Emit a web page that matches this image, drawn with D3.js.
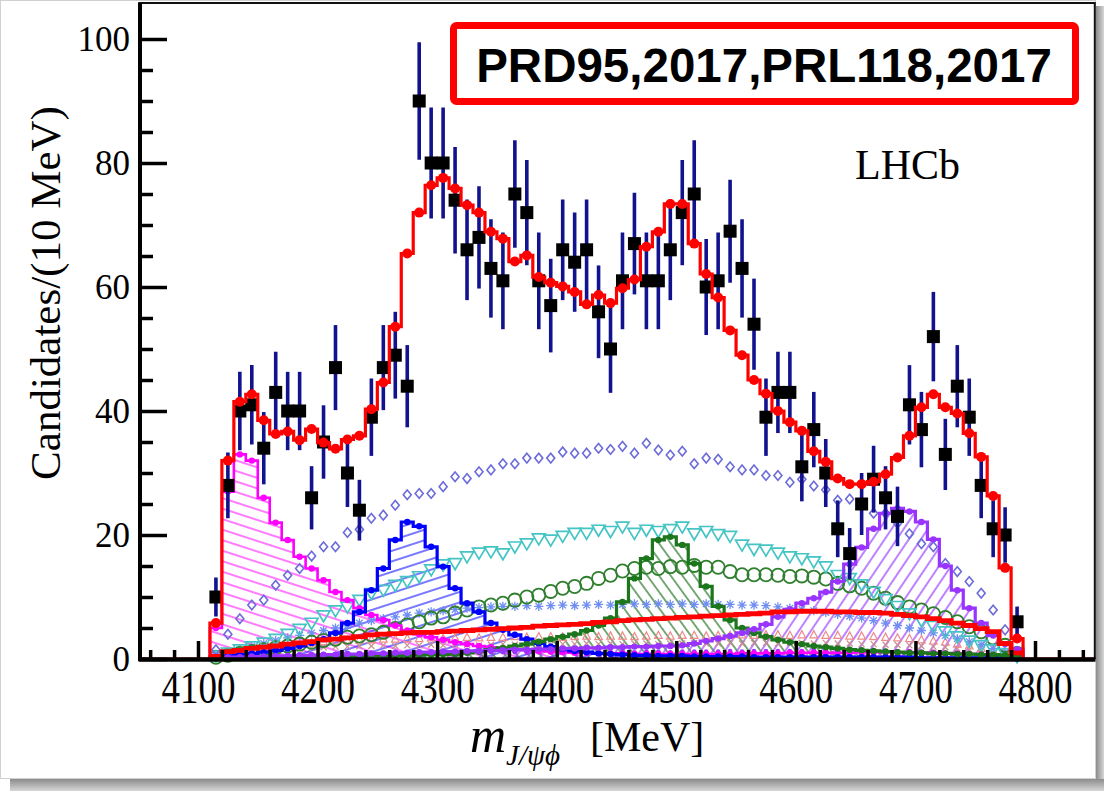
<!DOCTYPE html>
<html>
<head>
<meta charset="utf-8">
<script src="https://cdn.jsdelivr.net/npm/d3@7"></script>
<style>
  html, body { margin: 0; padding: 0; background: #ffffff; }
  svg { display: block; }
</style>
</head>
<body>
<svg id="chart" width="1104" height="791"></svg>
<script>
// ---- J/psi phi invariant-mass spectrum: 10 MeV bins ----
const binCenters = [
  4115, 4125, 4135, 4145, 4155, 4165, 4175, 4185, 4195, 4205,
  4215, 4225, 4235, 4245, 4255, 4265, 4275, 4285, 4295, 4305,
  4315, 4325, 4335, 4345, 4355, 4365, 4375, 4385, 4395, 4405,
  4415, 4425, 4435, 4445, 4455, 4465, 4475, 4485, 4495, 4505,
  4515, 4525, 4535, 4545, 4555, 4565, 4575, 4585, 4595, 4605,
  4615, 4625, 4635, 4645, 4655, 4665, 4675, 4685, 4695, 4705,
  4715, 4725, 4735, 4745, 4755, 4765, 4775, 4785
];

// Candidates per bin
const dataCounts = [
  10, 28, 40, 41, 34, 43, 40, 40, 26, 35,
  47, 30, 24, 39, 47, 49, 44, 90, 80, 80,
  74, 66, 68, 63, 61, 75, 72, 61, 57, 66,
  64, 66, 56, 50, 61, 67, 61, 61, 66, 72,
  75, 60, 61, 69, 63, 54, 39, 43, 43, 31,
  37, 30, 21, 17, 25, 29, 26, 23, 41, 37,
  52, 33, 44, 39, 28, 21, 20, 6
];

// Statistical uncertainty per bin
const dataErrors = [
  3.16, 5.29, 6.32, 6.40, 5.83, 6.56, 6.32, 6.32, 5.10, 5.92,
  6.86, 5.48, 4.90, 6.24, 6.86, 7.00, 6.63, 9.49, 8.94, 8.94,
  8.60, 8.12, 8.25, 7.94, 7.81, 8.66, 8.49, 7.81, 7.55, 8.12,
  8.00, 8.12, 7.48, 7.07, 7.81, 8.19, 7.81, 7.81, 8.12, 8.49,
  8.66, 7.75, 7.81, 8.31, 7.94, 7.35, 6.24, 6.56, 6.56, 5.57,
  6.08, 5.48, 4.58, 4.12, 5.00, 5.39, 5.10, 4.80, 6.40, 6.08,
  7.21, 5.74, 6.63, 6.24, 5.29, 4.58, 4.47, 2.45
];

// Total fit
const totalFit = [
  5.8, 32.0, 41.5, 42.7, 38.5, 36.3, 36.7, 35.3, 37.1, 34.9,
  33.9, 35.4, 36.0, 40.3, 44.6, 53.6, 65.4, 72.0, 76.4, 77.6,
  75.9, 73.2, 72.0, 68.9, 67.8, 64.1, 65.1, 61.6, 60.7, 60.1,
  59.2, 57.2, 58.7, 57.4, 59.8, 61.2, 66.5, 68.9, 73.4, 73.4,
  67.0, 62.1, 58.3, 53.0, 49.0, 45.0, 42.8, 40.0, 38.2, 36.8,
  33.5, 31.8, 29.1, 28.2, 28.2, 28.6, 29.8, 32.5, 36.0, 40.6,
  42.7, 40.6, 39.6, 36.4, 32.6, 26.3, 14.7, 3.3
];

// Hatched resonance components
const compX4140 = [
  5.0, 27.0, 33.0, 32.0, 26.0, 22.0, 19.2, 16.5, 14.6, 12.7,
  10.8, 9.5, 8.2, 7.1, 6.3, 5.4, 4.6, 4.0, 3.5, 3.1,
  2.7, 2.4, 2.1, 1.9, 1.7, 1.5, 1.4, 1.3, 1.2, 1.1,
  1.0, 1.0, 0.9, 0.9, 0.9, 0.8, 0.8, 0.8, 0.8, 0.8,
  0.8, 0.8, 0.8, 0.8, 0.9, 0.9, 0.9, 0.9, 1.0, 1.0,
  1.0, 1.0, 1.0, 1.0, 1.1, 1.1, 1.1, 1.1, 1.1, 1.0,
  1.0, 0.9, 0.9, 0.8, 0.7, 0.6, 0.5, 0.4
];
const compX4274 = [
  0.3, 0.5, 0.7, 0.9, 1.1, 1.4, 1.7, 2.1, 2.6, 3.2,
  4.2, 5.8, 7.6, 11.1, 14.6, 19.2, 22.1, 21.4, 18.1, 14.9,
  11.4, 9.0, 7.6, 5.8, 4.7, 3.9, 3.2, 2.5, 2.0, 1.6,
  1.3, 1.1, 0.9, 0.8, 0.7, 0.6, 0.6, 0.5, 0.5, 0.5,
  0.4, 0.4, 0.4, 0.4, 0.4, 0.3, 0.3, 0.3, 0.3, 0.3,
  0.3, 0.3, 0.3, 0.3, 0.3, 0.3, 0.3, 0.3, 0.3, 0.2,
  0.2, 0.2, 0.2, 0.2, 0.2, 0.2, 0.2, 0.1
];
const compX4500 = [
  0.1, 0.1, 0.15, 0.2, 0.2, 0.25, 0.3, 0.3, 0.35, 0.4,
  0.4, 0.45, 0.5, 0.5, 0.55, 0.6, 0.6, 0.65, 0.7, 0.75,
  0.8, 1.0, 1.2, 1.5, 1.8, 2.1, 2.4, 2.8, 3.2, 3.6,
  4.0, 4.6, 5.4, 6.6, 9.2, 13.0, 16.2, 19.2, 19.7, 18.4,
  15.4, 11.7, 8.5, 6.3, 5.0, 4.2, 3.6, 3.1, 2.7, 2.4,
  2.1, 1.9, 1.7, 1.5, 1.4, 1.3, 1.2, 1.1, 1.0, 1.0,
  0.9, 0.9, 0.8, 0.8, 0.7, 0.7, 0.6, 0.5
];
const compX4700 = [
  0.2, 0.3, 0.3, 0.4, 0.4, 0.5, 0.5, 0.6, 0.6, 0.7,
  0.7, 0.8, 0.8, 0.9, 0.9, 1.0, 1.0, 1.1, 1.1, 1.2,
  1.2, 1.3, 1.3, 1.4, 1.4, 1.5, 1.5, 1.6, 1.6, 1.7,
  1.7, 1.8, 1.8, 1.9, 1.9, 2.0, 2.0, 2.1, 2.1, 2.2,
  2.5, 2.9, 3.3, 3.7, 4.2, 4.8, 5.6, 6.8, 8.0, 9.0,
  9.8, 10.8, 12.5, 15.3, 18.0, 21.0, 23.5, 24.3, 23.8, 22.1,
  19.3, 15.0, 11.1, 8.2, 5.8, 3.8, 2.4, 1.6
];

// Broad components drawn with markers
const compDiamond = [
  1.5, 4.0, 6.5, 8.7, 9.5, 11.9, 13.5, 14.6, 16.6, 18.1,
  18.1, 20.4, 20.9, 22.7, 23.2, 24.8, 26.5, 26.7, 26.7, 27.8,
  29.4, 29.1, 30.2, 30.5, 31.5, 31.5, 32.4, 32.4, 32.4, 33.4,
  33.2, 33.2, 34.0, 33.8, 34.3, 33.2, 34.8, 33.7, 32.9, 33.5,
  31.5, 32.4, 32.2, 31.0, 30.5, 30.5, 29.6, 29.6, 28.5, 29.0,
  27.9, 27.3, 25.6, 25.8, 24.8, 23.5, 23.5, 21.9, 20.2, 18.6,
  18.1, 15.4, 14.1, 12.5, 10.6, 7.9, 4.7, 1.2
];
const compTriangle = [
  0.5, 1.0, 1.5, 2.0, 2.6, 3.2, 4.0, 4.8, 5.8, 7.0,
  7.8, 8.4, 9.5, 10.6, 11.1, 11.9, 12.5, 13.3, 14.4, 15.2,
  15.4, 16.5, 17.1, 17.3, 17.0, 18.1, 18.6, 19.4, 19.2, 19.8,
  20.3, 20.3, 20.8, 20.6, 21.3, 20.3, 20.8, 20.6, 20.9, 21.3,
  20.2, 20.6, 20.1, 19.8, 18.4, 17.7, 17.6, 17.1, 16.5, 16.2,
  15.7, 14.9, 13.5, 13.0, 12.0, 10.8, 9.6, 8.5, 7.3, 6.2,
  5.3, 4.4, 3.6, 2.9, 2.2, 1.5, 0.9, 0.4
];
const compCircle = [
  0.3, 0.6, 0.9, 1.2, 1.5, 1.8, 2.1, 2.4, 2.7, 3.0,
  3.2, 3.5, 3.7, 3.9, 4.3, 4.9, 5.5, 6.0, 6.6, 6.8,
  7.4, 7.9, 8.4, 8.7, 9.0, 9.5, 10.0, 10.3, 10.9, 11.4,
  11.7, 12.2, 13.0, 13.5, 14.2, 14.6, 14.8, 14.6, 14.9, 14.8,
  15.1, 14.8, 14.8, 14.1, 13.6, 13.6, 13.6, 13.5, 13.3, 13.4,
  13.2, 12.9, 12.2, 11.8, 11.4, 10.6, 9.8, 9.1, 8.4, 7.9,
  7.3, 6.7, 6.0, 5.2, 4.4, 3.4, 2.2, 0.9
];
const compStar = [
  0.5, 1.0, 1.5, 2.0, 2.5, 3.0, 3.4, 3.8, 4.2, 4.6,
  5.0, 5.4, 5.8, 6.2, 6.5, 6.8, 7.1, 7.4, 7.6, 7.8,
  8.0, 8.2, 8.3, 8.4, 8.5, 8.5, 8.6, 8.5, 8.6, 8.7,
  8.6, 8.7, 8.8, 8.7, 8.8, 8.9, 8.8, 8.9, 8.8, 8.9,
  8.8, 8.9, 8.8, 8.8, 8.7, 8.7, 8.6, 8.4, 8.2, 8.0,
  7.8, 7.5, 7.2, 6.9, 6.6, 6.2, 5.8, 5.4, 5.0, 4.6,
  4.2, 3.8, 3.3, 2.8, 2.3, 1.7, 1.1, 0.5
];
const compRedBand = [
  0.4, 1.2, 1.4, 1.7, 1.9, 2.1, 2.4, 2.6, 2.8, 3.1,
  3.2, 3.4, 3.6, 3.9, 4.0, 4.1, 4.2, 4.3, 4.3, 4.4,
  4.5, 4.6, 4.7, 4.8, 4.9, 5.0, 5.1, 5.3, 5.4, 5.5,
  5.6, 5.7, 5.9, 6.0, 6.2, 6.3, 6.4, 6.5, 6.6, 6.7,
  6.8, 6.9, 7.0, 7.1, 7.2, 7.3, 7.4, 7.6, 7.6, 7.7,
  7.7, 7.7, 7.6, 7.6, 7.5, 7.5, 7.4, 7.2, 7.0, 6.8,
  6.5, 6.2, 5.8, 5.4, 4.9, 4.4, 2.5, 1.0
];

// Small components near the baseline
const compLowSalmon = [
  0.4, 0.8, 1.1, 1.4, 1.7, 2.0, 2.2, 2.4, 2.6, 2.8,
  2.9, 3.0, 3.1, 3.1, 3.2, 3.2, 3.3, 3.3, 3.4, 3.3,
  3.4, 3.5, 3.4, 3.5, 3.5, 3.6, 3.5, 3.6, 3.6, 3.5,
  3.6, 3.7, 3.6, 3.7, 3.7, 3.6, 3.7, 3.8, 3.7, 3.8,
  3.8, 3.7, 3.8, 3.8, 3.9, 3.8, 3.9, 3.9, 3.8, 3.9,
  3.9, 3.8, 3.8, 3.7, 3.7, 3.6, 3.5, 3.4, 3.3, 3.1,
  2.9, 2.7, 2.4, 2.1, 1.7, 1.3, 0.9, 0.5
];
const compLowRose = [
  0.3, 0.6, 0.9, 1.1, 1.3, 1.5, 1.6, 1.7, 1.8, 1.9,
  2.0, 2.0, 2.1, 2.1, 2.2, 2.1, 2.2, 2.2, 2.3, 2.2,
  2.3, 2.3, 2.2, 2.3, 2.4, 2.3, 2.4, 2.4, 2.3, 2.4,
  2.4, 2.5, 2.4, 2.5, 2.4, 2.5, 2.5, 2.4, 2.5, 2.5,
  2.6, 2.5, 2.5, 2.6, 2.5, 2.6, 2.6, 2.5, 2.6, 2.6,
  2.5, 2.6, 2.5, 2.5, 2.4, 2.4, 2.3, 2.3, 2.2, 2.1,
  2.0, 1.9, 1.7, 1.5, 1.3, 1.0, 0.7, 0.4
];
const compLowViolet = [
  0.2, 0.3, 0.4, 0.5, 0.6, 0.6, 0.7, 0.7, 0.8, 0.8,
  0.8, 0.9, 0.9, 0.9, 0.9, 1.0, 1.0, 1.0, 1.0, 1.0,
  1.0, 1.1, 1.0, 1.1, 1.1, 1.1, 1.0, 1.1, 1.1, 1.1,
  1.1, 1.2, 1.1, 1.1, 1.2, 1.1, 1.2, 1.2, 1.1, 1.2,
  1.2, 1.2, 1.2, 1.3, 1.2, 1.3, 1.3, 1.3, 1.3, 1.3,
  1.4, 1.4, 1.4, 1.4, 1.3, 1.3, 1.3, 1.2, 1.2, 1.1,
  1.0, 0.9, 0.8, 0.6, 0.5, 0.3, 0.2, 0.1
];

// Axis ticks
const xTickValues = [4100, 4200, 4300, 4400, 4500, 4600, 4700, 4800];
const yTickValues = [0, 20, 40, 60, 80, 100];

// ---------------------------------------------------------------
const svg = d3.select("#chart");
const binHalf = 5;

const x = d3.scaleLinear().domain([4050, 4850]).range([138.2, 1094.8]);
const y = d3.scaleLinear().domain([0, 100]).range([659, 39]);
const yFrameTop = 105.8;

// page backdrop with soft shadow on the right and bottom
svg.append("rect").attr("x", 0).attr("y", 0).attr("width", 1104).attr("height", 791).attr("fill", "#ffffff");
const defs = svg.append("defs");
const gradR = defs.append("linearGradient").attr("id", "shadowR").attr("x1", 0).attr("x2", 1).attr("y1", 0).attr("y2", 0);
gradR.append("stop").attr("offset", "0%").attr("stop-color", "#8c8c8c");
gradR.append("stop").attr("offset", "100%").attr("stop-color", "#d6d6d6");
const gradB = defs.append("linearGradient").attr("id", "shadowB").attr("x1", 0).attr("x2", 0).attr("y1", 0).attr("y2", 1);
gradB.append("stop").attr("offset", "0%").attr("stop-color", "#8c8c8c");
gradB.append("stop").attr("offset", "100%").attr("stop-color", "#d6d6d6");
svg.append("rect").attr("x", 1096).attr("y", 6).attr("width", 8).attr("height", 785).attr("fill", "url(#shadowR)");
svg.append("rect").attr("x", 10).attr("y", 779).attr("width", 1094).attr("height", 12).attr("fill", "url(#shadowB)");
svg.append("rect").attr("x", 0.5).attr("y", 0.5).attr("width", 1095).attr("height", 778)
  .attr("fill", "none").attr("stroke", "#d0d0d0").attr("stroke-width", 1);

// hatch patterns
function hatch(id, color, angle, spacing, width) {
  const p = defs.append("pattern").attr("id", id)
    .attr("patternUnits", "userSpaceOnUse")
    .attr("width", spacing).attr("height", spacing)
    .attr("patternTransform", `rotate(${angle})`);
  p.append("line").attr("x1", -1).attr("x2", spacing + 1)
    .attr("y1", spacing / 2).attr("y2", spacing / 2)
    .attr("stroke", color).attr("stroke-width", width);
}
hatch("hMag", "#ff33ff", 18, 10, 1.3);
hatch("hBlue", "#2f2fff", -18, 10, 1.3);
hatch("hGreen", "#2e7d2e", 54, 9.5, 1.3);
hatch("hPurple", "#9b3dff", -56, 10, 1.3);

const plot = svg.append("g");
defs.append("clipPath").attr("id", "plotClip").append("rect")
  .attr("x", x(4050)).attr("y", y(yFrameTop)).attr("width", x(4850) - x(4050)).attr("height", y(0) - y(yFrameTop) + 6);
plot.attr("clip-path", "url(#plotClip)");

// step outline points: each bin edge carries the bin value
function stepPoints(vals) {
  const pts = vals.map((v, i) => ({ e: binCenters[i] - binHalf, v }));
  pts.push({ e: binCenters[binCenters.length - 1] + binHalf, v: 0 });
  return pts;
}
const stepLine = d3.line().x(d => x(d.e)).y(d => y(d.v)).curve(d3.curveStepAfter);
const stepArea = d3.area().x(d => x(d.e)).y0(y(0)).y1(d => y(d.v)).curve(d3.curveStepAfter);

const hatched = [
  { vals: compX4140, pat: "hMag", color: "#ff00ff", w: 2.6 },
  { vals: compX4274, pat: "hBlue", color: "#0000ff", w: 3.2 },
  { vals: compX4500, pat: "hGreen", color: "#1c761c", w: 3.2 },
  { vals: compX4700, pat: "hPurple", color: "#9933ff", w: 3.2 }
];

// hatched fills
hatched.forEach(h => {
  const pts = [{ e: binCenters[0] - binHalf, v: 0 }].concat(stepPoints(h.vals));
  plot.append("path").attr("d", stepArea(pts)).attr("fill", `url(#${h.pat})`);
});

// marker shapes
const shapes = {
  diamond: "M0,-4.8L4,0L0,4.8L-4,0Z",
  triDown: "M-6.5,-4.8L6.5,-4.8L0,6.2Z",
  star: "M0,-4.6V4.6M-4.6,0H4.6M-3.3,-3.3L3.3,3.3M-3.3,3.3L3.3,-3.3",
  triUp: "M0,-4.2L3.8,3L-3.8,3Z",
  cross: "M-3,-3L3,3M-3,3L3,-3"
};
function markerSeries(vals, shape, stroke, sw, fill) {
  plot.append("g").selectAll("path").data(vals).join("path")
    .attr("transform", (d, i) => `translate(${x(binCenters[i])},${y(d)})`)
    .attr("d", shapes[shape])
    .attr("fill", fill || "none").attr("stroke", stroke).attr("stroke-width", sw);
}

// baseline clutter
markerSeries(compLowRose, "cross", "#c98f8f", 1.2);
markerSeries(compLowSalmon, "triUp", "#ee8a8a", 1.2);
plot.append("g").selectAll("circle").data(compLowViolet).join("circle")
  .attr("cx", (d, i) => x(binCenters[i])).attr("cy", d => y(d)).attr("r", 2.3).attr("fill", "#9b30ff");

// broad components
markerSeries(compStar, "star", "#6f8ef2", 1.3);
plot.append("g").selectAll("circle").data(compCircle).join("circle")
  .attr("cx", (d, i) => x(binCenters[i])).attr("cy", d => y(d)).attr("r", 6.6)
  .attr("fill", "none").attr("stroke", "#2f7f2f").attr("stroke-width", 1.8);
markerSeries(compTriangle, "triDown", "#45c4c4", 1.7);
markerSeries(compDiamond, "diamond", "#6b6bd9", 1.6);

// hatched outlines with small markers
hatched.forEach(h => {
  const pts = [{ e: binCenters[0] - binHalf, v: 0 }].concat(stepPoints(h.vals));
  plot.append("path").attr("d", stepLine(pts)).attr("fill", "none")
    .attr("stroke", h.color).attr("stroke-width", h.w);
  plot.append("g").selectAll("circle").data(h.vals).join("circle")
    .attr("cx", (d, i) => x(binCenters[i])).attr("cy", d => y(d)).attr("r", 3.2)
    .attr("fill", h.color);
});

// thick red component
plot.append("path").attr("d", stepLine(stepPoints(compRedBand).slice(0, -1)
    .concat([{ e: binCenters[binCenters.length - 1] + binHalf, v: compRedBand[compRedBand.length - 1] }])))
  .attr("fill", "none").attr("stroke", "#ff0000").attr("stroke-width", 4.8);

// data points with error bars
const dataG = plot.append("g");
dataG.selectAll("line").data(dataCounts).join("line")
  .attr("x1", (d, i) => x(binCenters[i])).attr("x2", (d, i) => x(binCenters[i]))
  .attr("y1", (d, i) => y(d - dataErrors[i])).attr("y2", (d, i) => y(d + dataErrors[i]))
  .attr("stroke", "#12128f").attr("stroke-width", 3.6);
dataG.selectAll("rect").data(dataCounts).join("rect")
  .attr("x", (d, i) => x(binCenters[i]) - 6.5).attr("y", d => y(d) - 6.5)
  .attr("width", 13).attr("height", 13).attr("fill", "#000000");

// total fit: histogram across the full range
const totalPts = [{ e: 4050, v: 0 }].concat(stepPoints(totalFit)).concat([{ e: 4850, v: 0 }]);
plot.append("path").attr("d", stepLine(totalPts)).attr("fill", "none")
  .attr("stroke", "#ff0000").attr("stroke-width", 3.2);
plot.append("g").selectAll("circle").data(totalFit).join("circle")
  .attr("cx", (d, i) => x(binCenters[i])).attr("cy", d => y(d)).attr("r", 5)
  .attr("fill", "#ff0000");

// frame (top and right)
svg.append("path")
  .attr("d", `M${x(4050)},${y(yFrameTop)}H${x(4850)}V${y(0)}`)
  .attr("fill", "none").attr("stroke", "#111").attr("stroke-width", 2);

// axes
const serif = "'Liberation Serif', 'Times New Roman', serif";
const xAxis = d3.axisBottom(x).tickValues(xTickValues).tickSizeInner(-18).tickSizeOuter(0)
  .tickPadding(9.3).tickFormat(d3.format("d"));
const xMinor = d3.axisBottom(x)
  .tickValues(d3.range(4060, 4850, 20).filter(v => v % 100 !== 0))
  .tickSizeInner(-9).tickSizeOuter(0).tickFormat("");
const gxm = svg.append("g").attr("transform", `translate(0,${y(0)})`).call(xMinor);
const gx = svg.append("g").attr("transform", `translate(0,${y(0)})`).call(xAxis);

const yAxis = d3.axisLeft(y).tickValues(yTickValues).tickSizeInner(-27).tickSizeOuter(0)
  .tickPadding(10).tickFormat(d3.format("d"));
const yMinor = d3.axisLeft(y)
  .tickValues(d3.range(5, 105, 5).filter(v => v % 20 !== 0))
  .tickSizeInner(-13).tickSizeOuter(0).tickFormat("");
const gym = svg.append("g").attr("transform", `translate(${x(4050) + 1.8},0)`).call(yMinor);
const gy = svg.append("g").attr("transform", `translate(${x(4050) + 1.8},0)`).call(yAxis);

[gx, gxm, gy, gym].forEach(g => {
  g.selectAll(".tick line").attr("stroke", "#000").attr("stroke-width", 3.5);
  g.select(".domain").attr("stroke", "#000").attr("stroke-width", 4);
});
gym.select(".domain").attr("d", `M0,${y(0)}V${y(yFrameTop)}`);
gy.select(".domain").attr("d", `M0,${y(0) + 2}V${y(yFrameTop)}`);
// the mass labels are drawn tall and narrow
gx.selectAll(".tick text").attr("font-family", serif).attr("font-size", 37).attr("fill", "#000")
  .attr("transform", "scale(1,1.25)");
gy.selectAll(".tick text").attr("font-family", serif).attr("font-size", 35).attr("fill", "#000");

// axis titles
svg.append("text")
  .attr("transform", "translate(60,293) rotate(-90)")
  .attr("text-anchor", "middle")
  .attr("font-family", serif).attr("font-size", 43).attr("fill", "#000")
  .text("Candidates/(10 MeV)");

const xt = svg.append("text").attr("font-family", serif).attr("fill", "#000");
xt.append("tspan").attr("x", 470).attr("y", 752).attr("font-style", "italic").attr("font-size", 50).text("m");
xt.append("tspan").attr("dy", 13).attr("font-style", "italic").attr("font-size", 29).text("J/\u03C8\u03D5");
xt.append("tspan").attr("x", 590).attr("y", 751).attr("font-size", 42).text("[MeV]");

// experiment label
svg.append("text").attr("x", 855).attr("y", 179)
  .attr("font-family", serif).attr("font-size", 42).attr("fill", "#000").text("LHCb");

// reference box
svg.append("rect").attr("x", 453.5).attr("y", 25.5).attr("width", 622).attr("height", 76).attr("rx", 3)
  .attr("fill", "#ffffff").attr("stroke", "#ff0000").attr("stroke-width", 7);
svg.append("text").attr("x", 764).attr("y", 82).attr("text-anchor", "middle")
  .attr("font-family", "'Liberation Sans', Arial, sans-serif").attr("font-weight", "bold")
  .attr("font-size", 47.5).attr("fill", "#000").text("PRD95,2017,PRL118,2017");
</script>
</body>
</html>
